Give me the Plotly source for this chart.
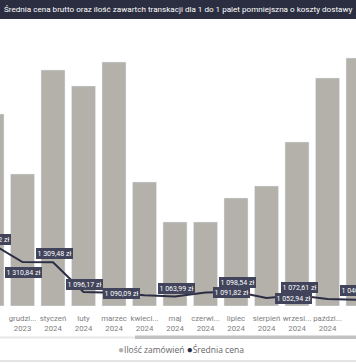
import plotly.graph_objects as go

# ---------------- data ----------------
months = ["listopad 2023", "grudzień 2023", "styczeń 2024", "luty 2024", "marzec 2024",
          "kwiecień 2024", "maj 2024", "czerwiec 2024", "lipiec 2024", "sierpień 2024",
          "wrzesień 2024", "październik 2024", "listopad 2024"]
tick_labels = ["listopad<br>2023", "grudzi...<br>2023", "styczeń<br>2024", "luty<br>2024",
               "marzec<br>2024", "kwieci...<br>2024", "maj<br>2024", "czerwi...<br>2024",
               "lipiec<br>2024", "sierpień<br>2024", "wrzesi...<br>2024", "paździ...<br>2024",
               "listopad<br>2024"]
orders = [48, 33, 59, 55, 61, 31, 21, 21, 27, 30, 41, 57, 62]          # Ilość zamówień
avg_price = [1439.72, 1310.84, 1309.48, 1096.17, 1090.09, 1072.50, 1063.99,
             1091.82, 1098.54, 1052.94, 1072.61, 1045.30, 1040.37]      # Średnia cena (zł)
bar_name = "Ilość zamówień"
line_name = "Średnia cena"
title = "Średnia cena brutto oraz ilość zawartch transkacji dla 1 do 1 palet pomniejszna o koszty dostawy"

# ---------------- style ----------------
BAR = "#b3b1aa"
LINE = "#2b2d44"
LABEL_BG = "#41445a"
FONT = "Roboto"
LEG_FONT = "Open Sans"
# label placement per point: (shown, dx px, dy px)
label_style = [(True, 0, 4), (True, 1, -10), (True, 1, 9), (True, 1, 8), (True, 7, -1),
               (False, 0, 0), (True, 1, 8), (True, 26, 0), (True, 1, 9), (True, 27, 0),
               (True, 2, 8), (False, 0, 0), (True, 0, 9)]

W, H = 356, 364
T, B = 30, 58


def fmt(v):
    s = f"{v:,.2f}"
    return s.replace(",", " ").replace(".", ",") + " zł"


fig = go.Figure()
fig.add_trace(go.Bar(x=months, y=orders, name=bar_name, marker_color=BAR,
                     showlegend=False, yaxis="y"))
fig.add_trace(go.Scatter(x=months, y=avg_price, name=line_name, mode="lines",
                         line=dict(color=LINE, width=2), showlegend=False, yaxis="y2"))

# x range in category units
xr = [0.262, 11.934]
annotations = []
for i, (m, v) in enumerate(zip(months, avg_price)):
    shown, dx, dy = label_style[i]
    if not shown:
        continue
    head_x = min(max(i, xr[0] + 0.01), xr[1] - 0.01)
    annotations.append(dict(
        x=head_x, y=v, xref="x", yref="y2",
        ax=i, ay=v, axref="x", ayref="y2",
        showarrow=True, arrowcolor="rgba(0,0,0,0)", arrowwidth=0.1, arrowhead=0,
        standoff=0, startstandoff=0,
        text=fmt(v), font=dict(family=FONT, size=7, color="white"),
        bgcolor=LABEL_BG, borderpad=1.5, borderwidth=0,
        xshift=dx, yshift=dy, xanchor="center", yanchor="middle"))

ph = H - T - B
def py(pix):
    return -(pix - (H - B)) / ph

# legend as text
annotations.append(dict(
    x=116 / W, y=py(349), xref="paper", yref="paper",
    showarrow=False, xanchor="left", yanchor="middle",
    text=(f"<span style='color:{BAR};font-size:10px'>●</span>{bar_name} "
          f"<span style='color:{LINE};font-size:10px'>●</span>{line_name}"),
    font=dict(family=LEG_FONT, size=8.5, color="#666666")))

shapes = [
    # title bar
    dict(type="rect", xref="paper", yref="paper", x0=0, x1=1, y0=py(19), y1=py(0),
         fillcolor="#2b2e40", line_width=0, layer="below"),
    # scrollbar track & thumb
    dict(type="rect", xref="paper", yref="paper", x0=0, x1=1, y0=py(338.5), y1=py(336.5),
         fillcolor="#e8e8e8", line_width=0),
    dict(type="rect", xref="paper", yref="paper", x0=135 / W, x1=1, y0=py(339), y1=py(335.5),
         fillcolor="#c2c2c2", line_width=0),
    # bottom border
    dict(type="line", xref="paper", yref="paper", x0=0, x1=1, y0=py(361), y1=py(361),
         line=dict(color="#c8c8c8", width=1)),
]

fig.update_layout(
    width=W, height=H,
    margin=dict(l=0, r=0, t=T, b=B, pad=0, autoexpand=False),
    paper_bgcolor="white", plot_bgcolor="white",
    bargap=0.213,
    title=dict(text=title, x=4 / W, xanchor="left", y=1 - 9.5 / H, yanchor="middle",
               font=dict(family=FONT, size=8.1, color="white")),
    xaxis=dict(range=xr, tickvals=months, ticktext=tick_labels, showgrid=False,
               showline=False, zeroline=False, ticks="", tickangle=0, automargin=False,
               ticklabelstandoff=6,
               tickfont=dict(family=FONT, size=7.8, color="#808080")),
    yaxis=dict(range=[0, 69], visible=False, fixedrange=True, automargin=False),
    yaxis2=dict(range=[996.0, 2971.0], overlaying="y", side="right", visible=False,
                automargin=False),
    annotations=annotations,
    shapes=shapes,
    showlegend=False,
)

fig.write_html("out.html", config={"displayModeBar": False},
               post_script="document.body.style.margin='0';document.body.style.overflow='hidden';")
